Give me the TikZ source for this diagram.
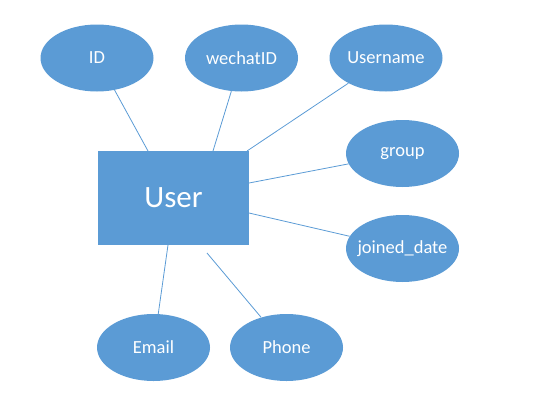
\documentclass[tikz,border=0pt]{standalone}
\usepackage{fontspec}
\setmainfont{Carlito}
\usetikzlibrary{shapes.geometric}
\definecolor{erblue}{HTML}{5B9BD5}
\newcommand{\fixw}[1]{\makebox[0pt][c]{#1}}
\tikzset{
  attr/.style={ellipse, fill=erblue, draw=none, minimum width=113pt, minimum height=67pt, inner sep=0pt, text=white, font=\fontsize{18.5}{22}\selectfont},
  entity/.style={rectangle, fill=erblue, draw=none, minimum width=151pt, minimum height=94pt, inner sep=0pt, text=white, font=\fontsize{31}{36}\selectfont},
  link/.style={draw=erblue, line width=0.8pt}
}
\begin{document}
\begin{tikzpicture}[x=1pt,y=-1pt]
\useasboundingbox (0,0) rectangle (548,410);
\node[entity] (user) at (173.5,198) {User};
\node[attr] (id) at (97,58) {\fixw{ID}};
\node[attr] (wechat) at (241.5,58) {\fixw{wechatID}};
\node[attr] (uname) at (386,58) {\fixw{Username}};
\node[attr] (group) at (402.5,153.5) {\fixw{group}};
\node[attr] (joined) at (402.5,248.5) {\fixw{joined\_date}};
\node[attr] (email) at (153.5,347.5) {\fixw{Email}};
\node[attr] (phone) at (286.5,347.5) {\fixw{Phone}};
\coordinate (cid) at (148,151);
\coordinate (cwe) at (213,151);
\coordinate (cun) at (247,151);
\coordinate (cgr) at (249,183);
\coordinate (cjo) at (249,213);
\coordinate (cem) at (168,245);
\coordinate (cph) at (207,253);
\draw[link] (id) -- (cid);
\draw[link] (wechat) -- (cwe);
\draw[link] (uname) -- (cun);
\draw[link] (group) -- (cgr);
\draw[link] (joined) -- (cjo);
\draw[link] (email) -- (cem);
\draw[link] (phone) -- (cph);
\end{tikzpicture}
\end{document}
